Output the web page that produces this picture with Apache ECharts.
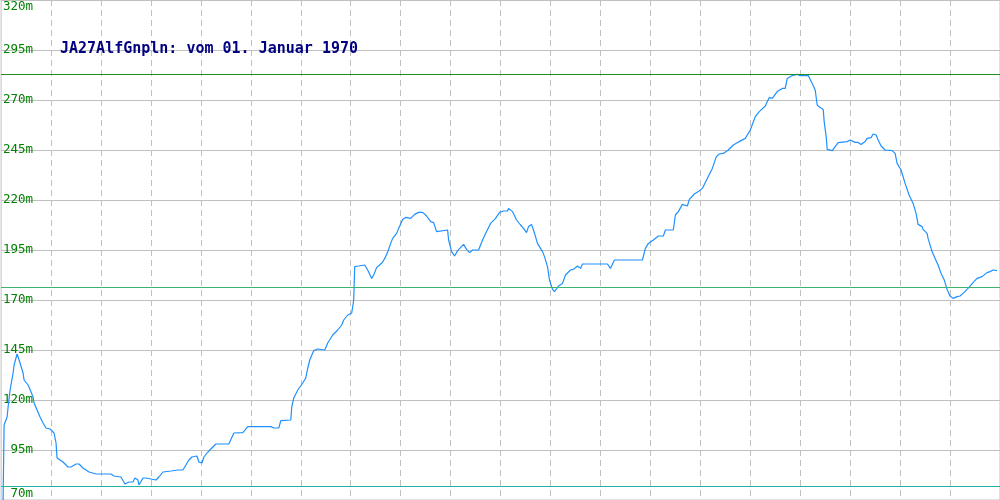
<!DOCTYPE html>
<html>
<head>
<meta charset="utf-8">
<script src="https://cdn.jsdelivr.net/npm/echarts@6/dist/echarts.min.js"></script>
<style>html,body{margin:0;padding:0;background:#fff}#c{width:1000px;height:500px}</style>
</head>
<body>
<div id="c"></div>
<script>
const titleText = 'JA27AlfGnpln: vom 01. Januar 1970';
const yTicks = [70, 95, 120, 145, 170, 195, 220, 245, 270, 295, 320];
const maxLine = 282.8;
const avgLine = 176.3;
const minLine = 77;
const dist = [2,3,4,6,7,9,12,13,16,18,22,23,27,30,32,33,36,39,42,45,49,53,55,56,58,62,67,70,75,78,82,88,95,110,113,120,124,128,132,134,137,138,142,145,147,155,158,162,170,177,178,182,185,188,191,193,196,198,201,203,207,210,215,228,233,242,247,270,273,278,280,290,291,293,297,302,305,307,309,313,317,319,324,327,332,334,337,341,343,347,351,353,354,358,360,364,367,369,371,373,376,379,382,385,387,390,392,396,398,402,405,407,410,414,418,422,426,430,433,436,438,447,448,451,454,457,463,466,469,472,478,482,485,490,495,499,503,507,508,512,516,520,523,526,528,531,533,537,542,544,547,549,552,554,558,562,565,570,573,577,580,582,607,610,614,642,645,648,653,658,663,665,673,675,678,682,687,689,694,698,702,707,712,716,719,723,728,733,735,739,745,750,755,759,765,769,772,777,782,785,787,792,797,800,808,812,815,817,820,823,824,826,827,832,834,838,847,850,855,858,861,865,867,871,873,876,878,881,885,892,895,897,901,905,909,913,916,918,922,923,927,928,932,935,938,941,944,947,950,953,957,960,963,968,973,977,978,982,987,990,993,995,997];
const elev = [70,107.5,108.5,111.5,116.5,125,133.5,137.5,143,140,133.5,130,127.5,124,121.5,118.5,115,111.5,108.5,106,105.5,103.5,98.5,91,91,89,86.5,86.5,88,88,86,84,83,83,82,81.5,78,79,79,81,80,77.5,81,81,80,80,81.5,84,84.5,85,86,85,87.5,90,91.5,91,92,89,88.5,91.5,94,95.5,98,98,103.5,103.7,106.7,106.7,106,106,109.7,110,116.7,121,125,128.5,131,136,140,144.7,145.5,145,145,148.5,152.5,152,155,157.5,160,162.5,163.5,170,186.7,187,187.8,187.5,185,184.7,180.8,182.5,186.3,187.5,189,191.7,194,198.3,200.8,203.3,205.8,210.3,211.3,212,210.8,212.8,213.8,213.8,212,209.2,208.7,204.2,205,205,200,194.2,192,194.7,197.8,195.3,193.7,195,195,200,203.3,208.3,210.8,213.8,214.5,214.5,215.8,214.2,210,207.5,205.8,203.7,206.7,207.8,205,198.3,194.2,191.7,186.7,180,175.3,174.2,177,178.3,182.5,185,185.3,187,185.8,188,188,185.8,190,190,195.8,198.3,200,202,202,205,205,212.5,214.2,217.8,217,220.3,223,224.2,225.8,230.8,235.8,241.7,243,243.3,245,247.5,247,249.2,250.8,255,261.7,264.2,267,271.3,270.8,274.2,275.8,275.8,280.8,282.2,282.8,282.2,282.2,278.3,275,267.5,266.2,265.3,259.2,251.7,245.3,244.7,243.8,248.7,249.2,250,248.8,248.8,247.8,249.2,250.8,251.2,253,252.5,250,247,245,244.7,243.3,238.3,235,228.3,222.5,218.3,213.3,207.8,206.7,205.3,203.3,200.8,194.2,190.8,187.5,183.3,180.3,175.3,172,170.8,171.7,172,173.3,175.8,178.7,180.8,180,181.7,183.7,184.2,185,185.5,184.7];

const data = dist.map((d, i) => [d, elev[i]]);
const chart = echarts.init(document.getElementById('c'), null, {renderer: 'canvas'});
const mono = 'DejaVu Sans Mono';
chart.setOption({
  animation: false,
  backgroundColor: '#ffffff',
  title: {
    text: titleText, left: 60, top: 42, padding: 0,
    textStyle: {color: '#000080', fontFamily: mono, fontSize: 15, fontWeight: 'bold'}
  },
  grid: {left: 0, right: 0, top: 0, bottom: 0, show: true, borderColor: '#c0c0c0', borderWidth: 1, containLabel: false},
  xAxis: {
    type: 'value', min: 0, max: 1000, interval: 50,
    axisLine: {show: false}, axisTick: {show: false}, axisLabel: {show: false},
    splitLine: {show: true, showMinLine: false, showMaxLine: false, lineStyle: {color: '#c0c0c0', type: [6, 4], width: 1}}
  },
  yAxis: {
    type: 'value', min: yTicks[0], max: yTicks[yTicks.length - 1], interval: 25,
    axisLine: {show: false}, axisTick: {show: false},
    axisLabel: {
      inside: true, margin: 32, align: 'right', color: '#008000',
      fontFamily: mono, fontSize: 12.5,
      verticalAlignMinLabel: 'bottom', verticalAlignMaxLabel: 'top',
      formatter: v => v + 'm'
    },
    splitLine: {show: true, lineStyle: {color: '#c0c0c0', width: 1}}
  },
  series: [{
    type: 'line', data: data, showSymbol: false, symbol: 'none',
    lineStyle: {color: '#1E90FF', width: 1.2}, z: 3,
    markLine: {
      silent: true, symbol: 'none', label: {show: false},
      data: [
        {yAxis: maxLine, lineStyle: {color: '#228B22', type: 'solid', width: 1}},
        {yAxis: avgLine, lineStyle: {color: '#3CB371', type: 'solid', width: 1}},
        {yAxis: minLine, lineStyle: {color: '#20B2AA', type: 'solid', width: 1}}
      ]
    }
  }]
});
</script>
</body>
</html>
